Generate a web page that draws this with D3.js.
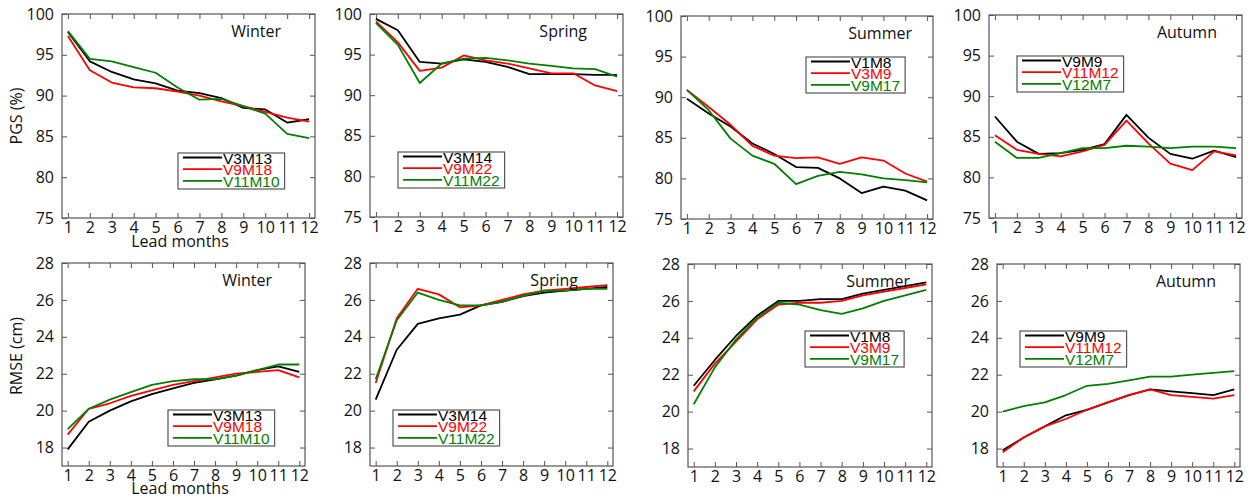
<!DOCTYPE html>
<html>
<head>
<meta charset="utf-8">
<script src="https://cdn.jsdelivr.net/npm/d3@7"></script>
<style>
  body { margin: 0; background: #fff; }
  text { fill: #111; }
</style>
</head>
<body>
<script>
// lead months on the x axis
var leadMonths = [1, 2, 3, 4, 5, 6, 7, 8, 9, 10, 11, 12];
var seasons = ["Winter", "Spring", "Summer", "Autumn"];
var pgsTicks = [75, 80, 85, 90, 95, 100];
var rmseTicks = [18, 20, 22, 24, 26, 28];
var seriesColors = ["#000000", "#ff0000", "#008000"];

// legend names, one triple per season
var seasonModels = [
  ["V3M13", "V9M18", "V11M10"],
  ["V3M14", "V9M22", "V11M22"],
  ["V1M8", "V3M9", "V9M17"],
  ["V9M9", "V11M12", "V12M7"]
];

// PGS (%)
var pgsWinter = [
  [97.8, 94.2, 92.9, 92.0, 91.5, 90.6, 90.3, 89.7, 88.5, 88.3, 86.7, 87.1],
  [97.3, 93.1, 91.6, 91.0, 90.9, 90.5, 90.0, 89.3, 88.7, 88.0, 87.3, 86.8],
  [97.9, 94.5, 94.2, 93.5, 92.8, 91.0, 89.5, 89.6, 88.7, 87.8, 85.3, 84.8]
];
var pgsSpring = [
  [99.4, 98.0, 94.1, 93.9, 94.4, 94.1, 93.5, 92.6, 92.6, 92.6, 92.5, 92.5],
  [99.1, 96.5, 93.0, 93.4, 94.9, 94.3, 93.9, 93.3, 92.7, 92.7, 91.2, 90.5],
  [98.9, 96.2, 91.5, 93.9, 94.5, 94.6, 94.3, 93.9, 93.6, 93.3, 93.2, 92.3]
];
var pgsSummer = [
  [89.8, 88.0, 86.4, 84.3, 83.0, 81.4, 81.3, 80.0, 78.2, 79.0, 78.5, 77.3],
  [90.9, 88.8, 86.6, 84.0, 82.8, 82.5, 82.6, 81.8, 82.6, 82.2, 80.6, 79.6],
  [90.9, 88.4, 84.9, 82.8, 81.8, 79.3, 80.3, 80.8, 80.5, 80.0, 79.8, 79.5]
];
var pgsAutumn = [
  [87.5, 84.4, 82.9, 83.0, 83.4, 84.1, 87.7, 84.9, 82.9, 82.3, 83.3, 82.5],
  [85.2, 83.4, 82.9, 82.6, 83.2, 84.0, 87.0, 84.2, 81.7, 80.9, 83.2, 82.7],
  [84.4, 82.4, 82.4, 83.0, 83.6, 83.6, 83.9, 83.8, 83.6, 83.8, 83.8, 83.6]
];

// RMSE (cm)
var rmseWinter = [
  [17.9, 19.4, 20.0, 20.5, 20.9, 21.2, 21.5, 21.7, 21.9, 22.2, 22.4, 22.1],
  [18.7, 20.1, 20.4, 20.8, 21.1, 21.4, 21.6, 21.8, 22.0, 22.1, 22.2, 21.8],
  [19.0, 20.1, 20.6, 21.0, 21.4, 21.6, 21.7, 21.7, 21.9, 22.2, 22.5, 22.5]
];
var rmseSpring = [
  [20.6, 23.3, 24.7, 25.0, 25.2, 25.7, 25.9, 26.2, 26.4, 26.5, 26.6, 26.7],
  [21.5, 25.0, 26.6, 26.3, 25.6, 25.7, 26.0, 26.3, 26.5, 26.6, 26.7, 26.8],
  [21.7, 24.9, 26.4, 26.0, 25.7, 25.7, 25.9, 26.2, 26.5, 26.5, 26.6, 26.6]
];
var rmseSummer = [
  [21.4, 22.8, 24.1, 25.2, 26.0, 26.0, 26.1, 26.1, 26.4, 26.6, 26.8, 27.0],
  [21.1, 22.6, 23.8, 25.0, 25.8, 25.9, 25.9, 26.0, 26.3, 26.5, 26.7, 26.9],
  [20.4, 22.4, 23.9, 25.1, 25.9, 25.8, 25.5, 25.3, 25.6, 26.0, 26.3, 26.6]
];
var rmseAutumn = [
  [17.9, 18.6, 19.2, 19.8, 20.1, 20.5, 20.9, 21.2, 21.1, 21.0, 20.9, 21.2],
  [17.8, 18.6, 19.2, 19.6, 20.1, 20.5, 20.9, 21.2, 20.9, 20.8, 20.7, 20.9],
  [20.0, 20.3, 20.5, 20.9, 21.4, 21.5, 21.7, 21.9, 21.9, 22.0, 22.1, 22.2]
];

var W = 1250, H = 498;
var svg = d3.select("body").append("svg")
  .attr("width", W).attr("height", H)
  .style("font-family", "'Open Sans', sans-serif");

// panel frames: [left, top, right, bottom], legend box [x, y], season label right offset
var panels = [
  { data: pgsWinter, season: 0, ticks: pgsTicks, ydom: [75, 100], box: [62, 14, 315, 218], leg: [178, 153], lab: 34 },
  { data: pgsSpring, season: 1, ticks: pgsTicks, ydom: [75, 100], box: [370, 14, 623, 217], leg: [398, 152], lab: 36 },
  { data: pgsSummer, season: 2, ticks: pgsTicks, ydom: [75, 100], box: [681, 16, 933, 219], leg: [806, 57], lab: 21 },
  { data: pgsAutumn, season: 3, ticks: pgsTicks, ydom: [75, 100], box: [989, 15, 1242, 218], leg: [1017, 56], lab: 25 },
  { data: rmseWinter, season: 0, ticks: rmseTicks, ydom: [17, 28], box: [62, 263, 305, 466], leg: [168, 410], lab: 33 },
  { data: rmseSpring, season: 1, ticks: rmseTicks, ydom: [17, 28], box: [370, 263, 613, 466], leg: [393, 410], lab: 35 },
  { data: rmseSummer, season: 2, ticks: rmseTicks, ydom: [17, 28], box: [688, 264, 932, 467], leg: [805, 331], lab: 22 },
  { data: rmseAutumn, season: 3, ticks: rmseTicks, ydom: [17, 28], box: [997, 264, 1240, 467], leg: [1020, 331], lab: 24 }
];

var frameColor = "#555";

panels.forEach(function(p) {
  var b = p.box;
  var x = d3.scaleLinear().domain([0.73, 12.27]).range([b[0], b[2]]);
  var y = d3.scaleLinear().domain(p.ydom).range([b[3], b[1]]);
  var g = svg.append("g");

  // inward ticks on all four sides
  var axB = d3.axisBottom(x).tickValues(leadMonths).tickSizeInner(-5).tickSizeOuter(0).tickPadding(4);
  var axT = d3.axisTop(x).tickValues(leadMonths).tickSizeInner(-5).tickSizeOuter(0).tickFormat("");
  var axL = d3.axisLeft(y).tickValues(p.ticks).tickSizeInner(-5).tickSizeOuter(0).tickPadding(8);
  var axR = d3.axisRight(y).tickValues(p.ticks).tickSizeInner(-5).tickSizeOuter(0).tickFormat("");

  [[axB, "translate(0," + b[3] + ")"], [axT, "translate(0," + b[1] + ")"],
   [axL, "translate(" + b[0] + ",0)"], [axR, "translate(" + b[2] + ",0)"]].forEach(function(a) {
    var ga = g.append("g").attr("transform", a[1]).call(a[0]);
    ga.select(".domain").remove();
    ga.selectAll(".tick line").attr("stroke", frameColor);
    ga.selectAll(".tick text")
      .style("font-family", "'Open Sans', sans-serif")
      .style("font-size", "16px")
      .attr("fill", "#111");
  });

  g.append("rect")
    .attr("x", b[0]).attr("y", b[1])
    .attr("width", b[2] - b[0]).attr("height", b[3] - b[1])
    .attr("fill", "none").attr("stroke", frameColor).attr("stroke-width", 1.2);

  var line = d3.line()
    .x(function(d, i) { return x(leadMonths[i]); })
    .y(function(d) { return y(d); });

  p.data.forEach(function(s, k) {
    g.append("path")
      .attr("d", line(s))
      .attr("fill", "none")
      .attr("stroke", seriesColors[k])
      .attr("stroke-width", 1.8)
      .attr("stroke-linejoin", "round");
  });

  g.append("text")
    .attr("x", b[2] - p.lab).attr("y", b[1] + 23)
    .attr("text-anchor", "end")
    .style("font-size", "16px")
    .text(seasons[p.season]);

  // legend
  var lx = p.leg[0], ly = p.leg[1];
  var lg = g.append("g");
  var box = lg.append("rect")
    .attr("x", lx).attr("y", ly).attr("height", 36)
    .attr("fill", "#fff").attr("stroke", frameColor).attr("stroke-width", 1.2);
  var maxEnd = 0;
  seasonModels[p.season].forEach(function(name, k) {
    var yy = ly + 10.5 + k * 11.7;
    lg.append("line")
      .attr("x1", lx + 5).attr("x2", lx + 44)
      .attr("y1", yy - 6).attr("y2", yy - 6)
      .attr("stroke", seriesColors[k]).attr("stroke-width", 1.8);
    var t = lg.append("text")
      .attr("x", lx + 45).attr("y", yy)
      .style("font-family", "'Liberation Sans', Arial, sans-serif")
      .style("font-size", "15.5px")
      .style("fill", seriesColors[k])
      .text(name);
    maxEnd = Math.max(maxEnd, 45 + t.node().getComputedTextLength());
  });
  box.attr("width", maxEnd + 5);
});

// shared axis titles
svg.append("text")
  .attr("transform", "translate(22,116) rotate(-90)")
  .attr("text-anchor", "middle").style("font-size", "16px")
  .text("PGS (%)");
svg.append("text")
  .attr("transform", "translate(22,356) rotate(-90)")
  .attr("text-anchor", "middle").style("font-size", "16px")
  .text("RMSE (cm)");
svg.append("text")
  .attr("x", 180).attr("y", 247)
  .attr("text-anchor", "middle").style("font-size", "16px")
  .text("Lead months");
svg.append("text")
  .attr("x", 180).attr("y", 494)
  .attr("text-anchor", "middle").style("font-size", "16px")
  .text("Lead months");
</script>
</body>
</html>
